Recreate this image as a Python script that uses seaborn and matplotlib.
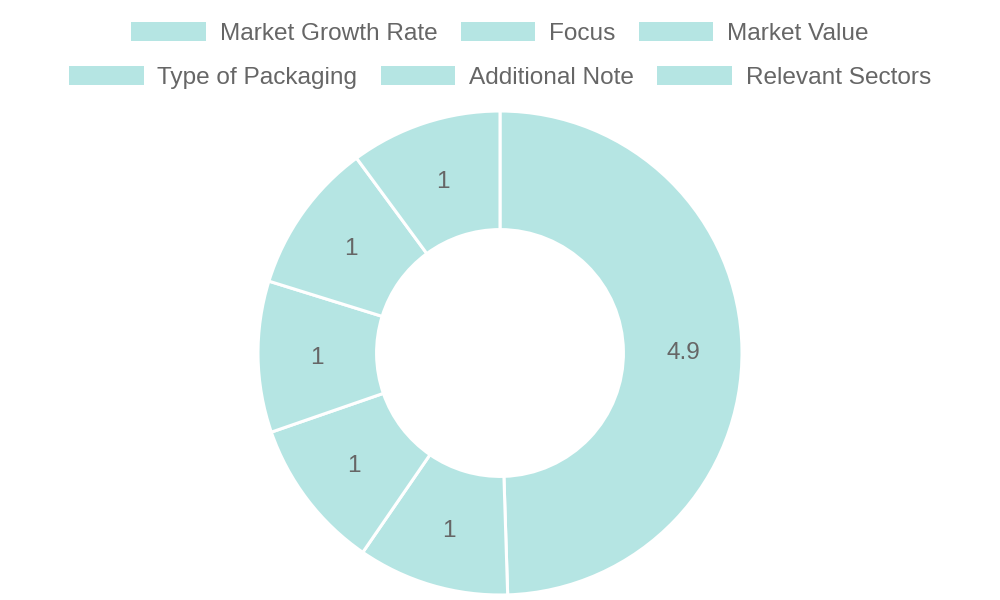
import matplotlib
matplotlib.use("Agg")
import matplotlib.pyplot as plt
import seaborn as sns
from matplotlib.patches import Patch

categories = ["Market Growth Rate", "Focus", "Market Value",
              "Type of Packaging", "Additional Note", "Relevant Sectors"]
values = [4.9, 1, 1, 1, 1, 1]

sns.set_theme(style="white")
plt.rcParams['font.family'] = ['Liberation Sans', 'DejaVu Sans']

color = "#b5e5e3"
text_color = "#666666"
palette = [color] * len(values)

W, H = 1000, 600
fig = plt.figure(figsize=(W / 100, H / 100), dpi=100)
cx, cy, r = 500, 353, 242
ax = fig.add_axes([(cx - r) / W, (H - cy - r) / H, 2 * r / W, 2 * r / H])

total = sum(values)
def fmt(p):
    v = round(p * total / 100, 1)
    return f"{v:g}"

fs = 17.6
wedges, texts, autotexts = ax.pie(
    values, colors=palette, startangle=90, counterclock=False,
    wedgeprops=dict(width=0.49, edgecolor="white", linewidth=2.2),
    autopct=fmt, pctdistance=0.756,
    textprops=dict(color=text_color, fontsize=fs))
for t in autotexts:
    t.set_va("center_baseline")
ax.set_xlim(-1, 1)
ax.set_ylim(-1, 1)
ax.set_aspect("equal")
ax.axis("off")

handles = [Patch(facecolor=color, edgecolor="none") for _ in categories]
common = dict(frameon=False, ncol=3, fontsize=fs, handlelength=3.05,
              handleheight=0.82, handletextpad=0.57, columnspacing=0.95,
              labelcolor=text_color, borderaxespad=0, borderpad=0)
leg1 = fig.legend(handles[:3], categories[:3], loc="center",
                  bbox_to_anchor=(0.5, 1 - 33.5 / H), **common)
leg2 = fig.legend(handles[3:], categories[3:], loc="center",
                  bbox_to_anchor=(0.5, 1 - 77.5 / H), **common)

fig.savefig("out.png", dpi=100, facecolor="white")
